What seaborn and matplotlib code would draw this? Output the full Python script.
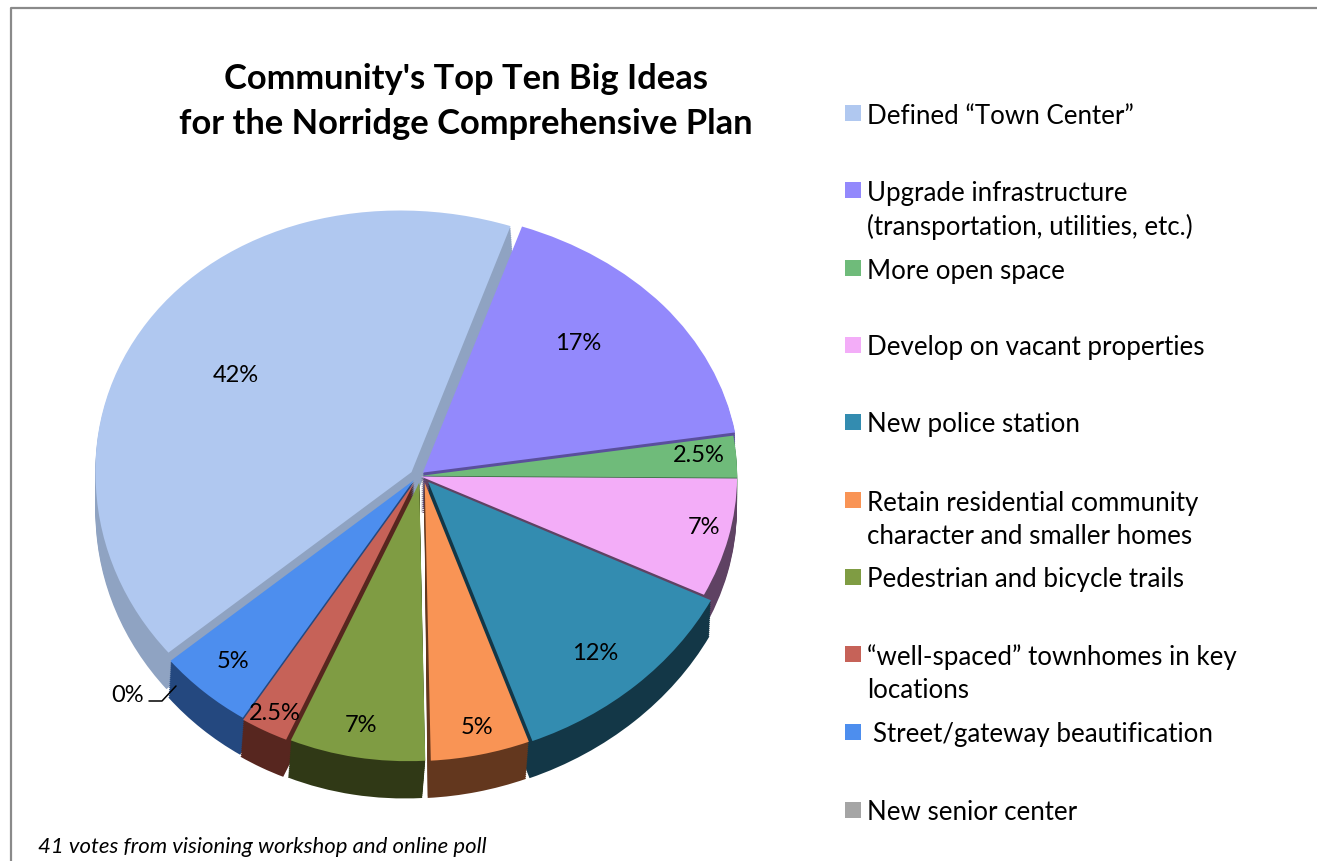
import matplotlib
matplotlib.use("Agg")
import matplotlib.pyplot as plt
from matplotlib.lines import Line2D
from matplotlib.patches import Rectangle
from matplotlib.transforms import Transform
import numpy as np
import seaborn as sns

# Poll results, in slice order
ideas = [
    "Defined “Town Center”",
    "Upgrade infrastructure\n(transportation, utilities, etc.)",
    "More open space",
    "Develop on vacant properties",
    "New police station",
    "Retain residential community\ncharacter and smaller homes",
    "Pedestrian and bicycle trails",
    "“well-spaced” townhomes in key\nlocations",
    " Street/gateway beautification",
    "New senior center",
]
shares = [42, 17, 2.5, 7, 12, 5, 7, 2.5, 5, 0]

top_colors = ["#b0c8f0", "#9389fc", "#6fbb7a", "#f3adf8", "#338cb0",
              "#f99455", "#7f9c43", "#c66258", "#4d8eee", "#a5a5a5"]
side_colors = ["#8fa3c2", "#5a4f9c", "#3a6b43", "#5f4263", "#133747",
               "#63371e", "#303916", "#57261f", "#24487f", "#666666"]
slice_gaps = [0.025, 0.02, 0.01, 0.01, 0.03, 0.025, 0.025, 0.025, 0.02, 0.0]
slice_nudges = [0, 0, 0, 0, 0.012, 0.016, 0.008, 0, 0, 0]

W, H = 1317, 862
sns.set_theme(style="white", font="Lato")
fig = plt.figure(figsize=(W / 100, H / 100), dpi=100, facecolor="white")


def fx(px):
    return px / W


def fy(py):
    return 1 - py / H


# Plot box for the tilted pie
CX, CY, RX, RY = 418, 477, 316, 270
LEFT, RIGHT, TOP, BOTTOM = 70, 770, 180, 830
TILT = 0.03  # foreshortening: the near half of the disc reads larger than the far half
DRIFT = 0.035  # the disc's far and near rims lean slightly to the left


def near_far(y):
    return np.asarray(y) * (1 - TILT * np.asarray(y))


def near_far_inverse(v):
    v = np.asarray(v)
    return (1 - np.sqrt(np.maximum(1 - 4 * TILT * v, 0))) / (2 * TILT)


class RimDrift(Transform):
    """Moves points left in proportion to the square of their height."""
    input_dims = 2
    output_dims = 2

    def transform_non_affine(self, values):
        moved = np.array(values, dtype=float)
        moved[:, 0] -= DRIFT * moved[:, 1] ** 2
        return moved


ax = fig.add_axes([fx(LEFT), fy(BOTTOM), (RIGHT - LEFT) / W, (BOTTOM - TOP) / H])

pie_style = dict(startangle=221, counterclock=False, explode=slice_gaps, radius=1.0,
                 wedgeprops=dict(linewidth=0))


def draw_disc(colors, drop):
    """One copy of the pie, lowered by drop, with each slice nudged sideways."""
    pieces = ax.pie(shares, colors=sns.color_palette(colors), center=(0, -drop), **pie_style)[0]
    for piece, nudge in zip(pieces, slice_nudges):
        x, y = piece.center
        piece.set_center((x + nudge, y))
    return pieces


# Extruded rim: stacked copies below the top face, deepest first
depth = 35 / RY
layers = 18
wedges = []
for i in range(layers, 0, -1):
    wedges += draw_disc(side_colors, depth * i / layers)
wedges += draw_disc(top_colors, 0)

ax.set_aspect("auto")
ax.set_yscale("function", functions=(near_far, near_far_inverse))
ax.set_xlim((LEFT - CX) / RX, (RIGHT - CX) / RX)
ax.set_ylim(near_far_inverse((CY - BOTTOM) / RY), near_far_inverse((CY - TOP) / RY))
ax.axis("off")
for wedge in wedges:
    wedge.set_transform(RimDrift() + ax.transData)

# Percentage labels
label_px = [(236, 375), (578, 343), (699, 456), (704, 527), (595, 653),
            (477, 728), (361, 726), (275, 714), (233, 662), (128, 695)]
for share, (px, py) in zip(shares, label_px):
    fig.text(fx(px), fy(py), f"{share:g}%", ha="center", va="center",
             fontsize=17, color="black")

# Leader line for the empty slice
fig.add_artist(Line2D([fx(149), fx(162), fx(176)], [fy(702), fy(702), fy(687)],
                      color="black", lw=1.1))

# Title and source note
fig.text(fx(466), fy(79), "Community's Top Ten Big Ideas", ha="center", va="center",
         fontsize=24.8, fontweight="bold", color="black")
fig.text(fx(466), fy(124), "for the Norridge Comprehensive Plan", ha="center", va="center",
         fontsize=24.8, fontweight="bold", color="black")
fig.text(fx(38), fy(847), "41 votes from visioning workshop and online poll", ha="left", va="center",
         fontsize=15.9, fontstyle="italic", color="black")

# Hand-spaced legend column
row_ys = [114, 191, 269, 346, 423, 501, 578, 655, 733, 811]
for idea, color, row in zip(ideas, top_colors, row_ys):
    fig.add_artist(Rectangle((fx(845), fy(row + 8)), 16 / W, 16 / H, transform=fig.transFigure,
                             facecolor=color, edgecolor="none"))
    lead = 6 if idea.startswith(" ") else 0
    for n, line in enumerate(idea.strip().split("\n")):
        fig.text(fx(867 + lead), fy(row + 2 + n * 34), line, ha="left", va="center",
                 fontsize=18.6, color="black")

# Chart frame running off the right and bottom edges
fig.add_artist(Line2D([fx(11), fx(11), 1], [0, fy(9), fy(9)], color="#8a8a8a", lw=1.6))

fig.savefig("out.png", dpi=100, facecolor="white")
